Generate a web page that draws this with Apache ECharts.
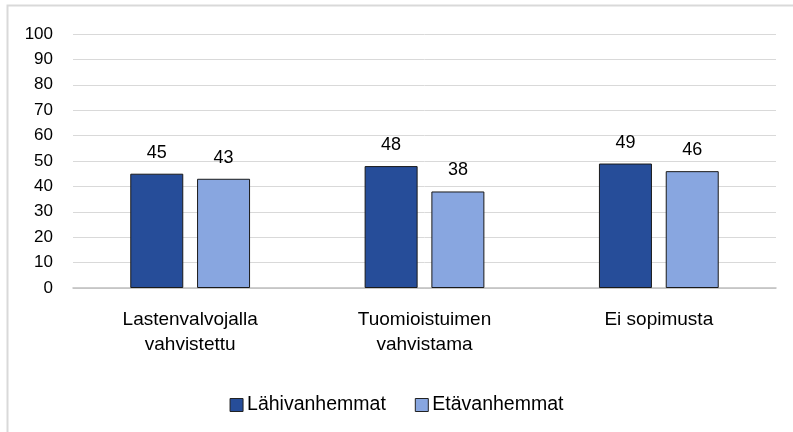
<!DOCTYPE html>
<html>
<head>
<meta charset="utf-8">
<script src="https://cdn.jsdelivr.net/npm/echarts@6/dist/echarts.min.js"></script>
<style>
  html, body { margin: 0; padding: 0; background: #fff; }
  #chart { width: 793px; height: 432px; }
</style>
</head>
<body>
<div id="chart"></div>
<script>
const categories = ['Lastenvalvojalla\nvahvistettu', 'Tuomioistuimen\nvahvistama', 'Ei sopimusta']
const seriesNames = ['Lähivanhemmat', 'Etävanhemmat']
const lahiValues = [45, 48, 49]
const etaValues = [43, 38, 46]
const seriesColors = ['#264D99', '#88A6E0']

const chart = echarts.init(document.getElementById('chart'))

chart.setOption({
  animation: false,
  textStyle: { fontFamily: 'Liberation Sans, Arial, sans-serif' },
  graphic: [{
    type: 'rect',
    shape: { x: 7.5, y: 5.5, width: 800, height: 440 },
    style: { fill: 'none', stroke: '#d9d9d9', lineWidth: 2 },
    silent: true
  }],
  grid: {
    left: 73,
    right: 17,
    top: 34,
    bottom: 144
  },
  legend: {
    bottom: 12,
    left: 'center',
    itemWidth: 13,
    itemHeight: 13,
    itemGap: 29,
    icon: 'rect',
    textStyle: { fontSize: 19.5, color: '#000', padding: [0, 0, 0, -1] },
    data: seriesNames.map((n, i) => ({
      name: n,
      itemStyle: { color: seriesColors[i], borderColor: '#222', borderWidth: 1 }
    }))
  },
  xAxis: {
    type: 'category',
    data: categories,
    axisTick: { show: false },
    axisLine: { lineStyle: { color: '#bfbfbf', width: 1.5 } },
    axisLabel: {
      fontSize: 19,
      color: '#000',
      margin: 19,
      lineHeight: 25
    }
  },
  yAxis: {
    type: 'value',
    min: 0,
    max: 100,
    interval: 10,
    axisLine: { show: false },
    axisTick: { show: false },
    splitLine: { lineStyle: { color: '#d9d9d9', width: 1 } },
    axisLabel: { fontSize: 17, color: '#000', margin: 20 }
  },
  series: [lahiValues, etaValues].map((vals, i) => ({
    name: seriesNames[i],
    type: 'bar',
    data: vals,
    barWidth: 53,
    barGap: '26%',
    itemStyle: {
      color: seriesColors[i],
      borderColor: '#1a1a1a',
      borderWidth: 1
    },
    label: {
      show: true,
      position: 'top',
      distance: 12,
      fontSize: 18,
      color: '#000'
    }
  }))
})
</script>
</body>
</html>
